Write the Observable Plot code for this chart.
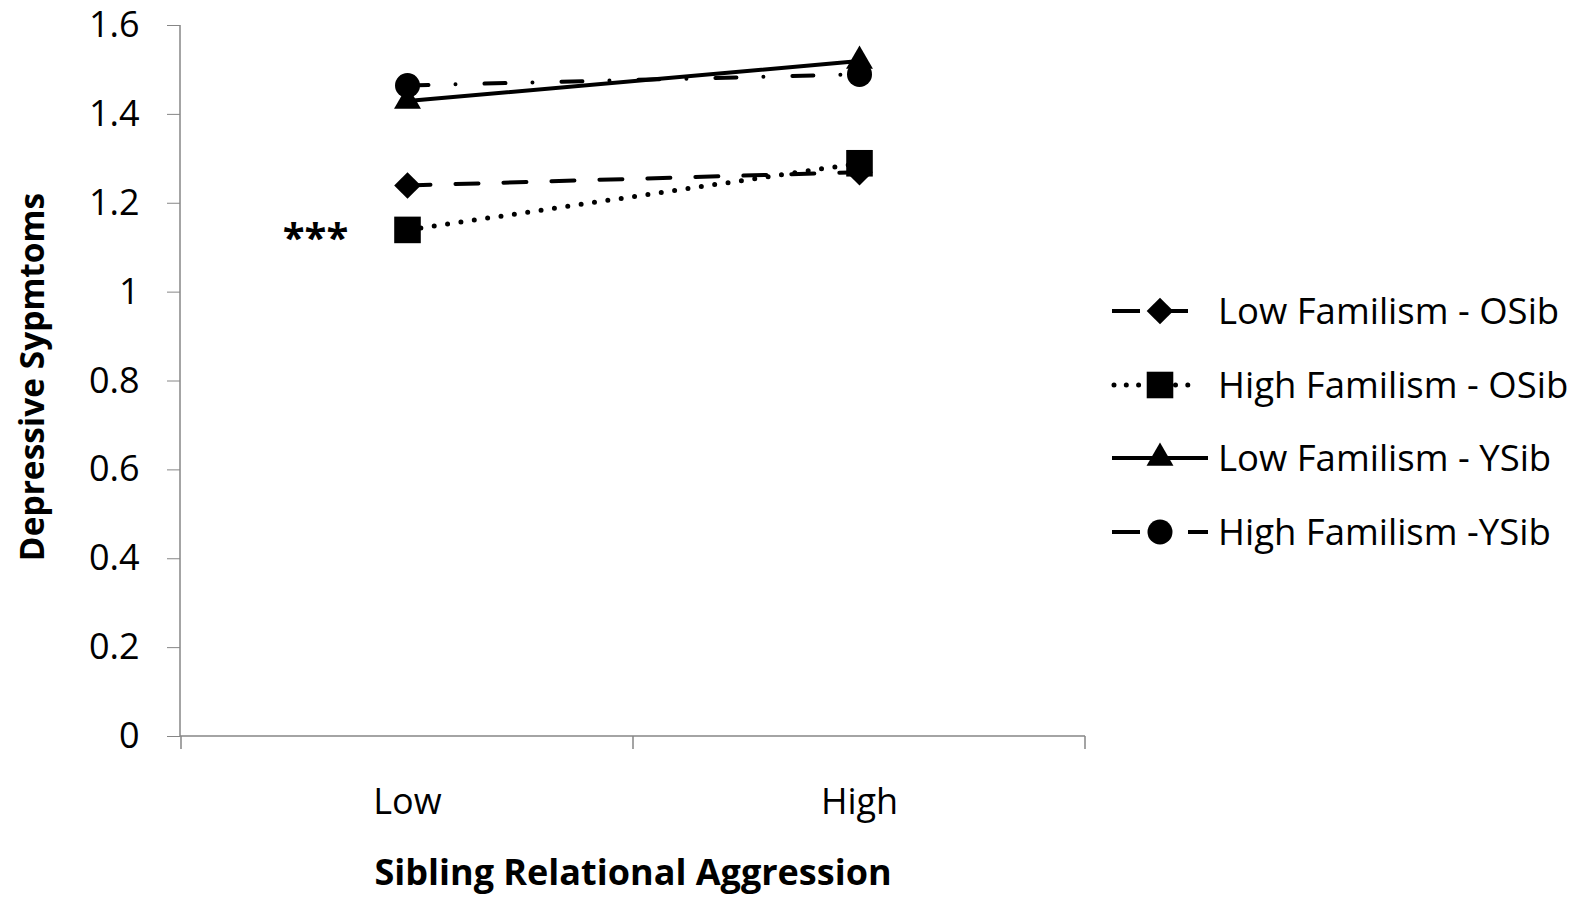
<!DOCTYPE html>
<html>
<head>
<meta charset="utf-8">
<script src="https://cdn.jsdelivr.net/npm/d3@7"></script>
<script src="https://cdn.jsdelivr.net/npm/@observablehq/plot@0.6"></script>
<style>
  html, body { margin: 0; padding: 0; background: #ffffff; }
  #wrap { position: relative; width: 1585px; height: 897px; overflow: hidden; }
  #legend { position: absolute; left: 0; top: 0; }
  text { font-family: "Open Sans", sans-serif; }
</style>
</head>
<body>
<div id="wrap"></div>
<script>
// ---- data ----
const levels = ["Low", "High"];
const seriesNames = ["Low Familism - OSib", "High Familism - OSib", "Low Familism - YSib", "High Familism -YSib"];
const lowFamOSib = [1.24, 1.27];
const highFamOSib = [1.14, 1.29];
const lowFamYSib = [1.43, 1.52];
const highFamYSib = [1.465, 1.49];
const yTicks = [0, 0.2, 0.4, 0.6, 0.8, 1, 1.2, 1.4, 1.6];
const xTitle = "Sibling Relational Aggression";
const yTitle = "Depressive Sypmtoms";
const annotation = "***";

const seriesValues = [lowFamOSib, highFamOSib, lowFamYSib, highFamYSib];
const table = seriesNames.flatMap((s, i) => levels.map((l, j) => ({series: s, level: l, value: seriesValues[i][j]})));
const of = (name) => table.filter(d => d.series === name);

// ---- styles per series ----
const styles = [
  {symbol: "diamond2", r: 12, dash: "23,25", width: 4},
  {symbol: "square", r: 15, dash: "0,13.5", width: 5},
  {symbol: "triangle", r: 10, dash: null, width: 4},
  {symbol: "circle", r: 12.5, dash: "21,27,0,29", width: 4}
];

const W = 1585, H = 897;
const FONT = 36;

const marks = [];
seriesNames.forEach((s, i) => {
  const st = styles[i];
  const opts = {x: "level", y: "value", stroke: "black", strokeWidth: st.width, strokeLinecap: "round"};
  if (st.dash) opts.strokeDasharray = st.dash;
  marks.push(Plot.line(of(s), opts));
});
seriesNames.forEach((s, i) => {
  const st = styles[i];
  marks.push(Plot.dot(of(s), {x: "level", y: "value", symbol: st.symbol, r: st.r, fill: "black", stroke: "none"}));
});

// annotation next to the High Familism - OSib point at Low
marks.push(Plot.text(of(seriesNames[1]).filter(d => d.level === "Low"), {
  x: "level", y: "value", text: () => annotation, dx: -92, dy: 9, fontSize: 40, fontWeight: "bold", fill: "black"
}));

marks.push(Plot.axisY({
  ticks: yTicks, tickSize: 13, tickPadding: 28, stroke: "#868686",
  tickFormat: d => String(+d.toFixed(1)), fontSize: FONT, label: null, color: "black"
}));
marks.push(Plot.axisX({tickSize: 0, tickPadding: 52, fontSize: FONT, label: null}));
marks.push(Plot.text([yTitle], {frameAnchor: "left", textAnchor: "middle", lineAnchor: "middle", rotate: -90, dx: -147, dy: -4, fontSize: 33.5, fontWeight: "bold", fill: "black"}));
marks.push(Plot.text([xTitle], {frameAnchor: "bottom", textAnchor: "middle", lineAnchor: "middle", dy: 137, fontSize: FONT, fontWeight: "bold", fill: "black"}));

const plot = Plot.plot({
  width: W,
  height: H,
  marginLeft: 180,
  marginRight: 500,
  marginTop: 25,
  marginBottom: 161,
  style: {background: "#ffffff", fontFamily: "'Open Sans', sans-serif", color: "black"},
  x: {type: "band", domain: levels, padding: 0},
  y: {domain: [0, 1.6]},
  marks
});

document.getElementById("wrap").appendChild(plot);

// axis lines and x band-boundary ticks, from the plot's own scales
const xs = plot.scale("x"), ys = plot.scale("y");
const svg = d3.select(plot);
const y0 = ys.apply(0), yTop = ys.apply(1.6);
const bw = xs.bandwidth;
// band scale apply() gives the band start
const bounds = [xs.apply(levels[0]), ...levels.map(l => xs.apply(l) + bw)];
const gAxis = svg.append("g").attr("stroke", "#868686").attr("stroke-width", 1.5);
gAxis.append("line").attr("x1", xs.range[0]).attr("x2", xs.range[0]).attr("y1", yTop).attr("y2", y0);
gAxis.append("line").attr("x1", xs.range[0]).attr("x2", xs.range[1]).attr("y1", y0).attr("y2", y0);
bounds.forEach(b => gAxis.append("line").attr("x1", b).attr("x2", b).attr("y1", y0).attr("y2", y0 + 13));

// ---- legend ----
const leg = d3.select("#wrap").append("svg").attr("id", "legend").attr("width", W).attr("height", H);
const legRows = [311, 385, 458, 532];
const legLines = [
  {x1: 1112, x2: 1188, dash: "28,18,30"},
  {x1: 1114, x2: 1200, dash: "0,12.3"},
  {x1: 1112, x2: 1208, dash: null},
  {x1: 1112, x2: 1208, dash: "28,48,20"}
];
const symMap = {diamond2: d3.symbolDiamond2, square: d3.symbolSquare, triangle: d3.symbolTriangle, circle: d3.symbolCircle};
seriesNames.forEach((s, i) => {
  const y = legRows[i], st = styles[i], ll = legLines[i];
  const ln = leg.append("line").attr("x1", ll.x1).attr("x2", ll.x2).attr("y1", y).attr("y2", y)
    .attr("stroke", "black").attr("stroke-width", st.width).attr("stroke-linecap", i === 1 ? "round" : "butt");
  if (ll.dash) ln.attr("stroke-dasharray", ll.dash);
  leg.append("path").attr("transform", `translate(1160,${y})`)
    .attr("d", d3.symbol(symMap[st.symbol], Math.PI * st.r * st.r)()).attr("fill", "black");
  leg.append("text").attr("x", 1218).attr("y", y).attr("dy", "0.35em")
    .attr("font-size", 36.5).attr("fill", "black").text(s);
});
</script>
</body>
</html>
